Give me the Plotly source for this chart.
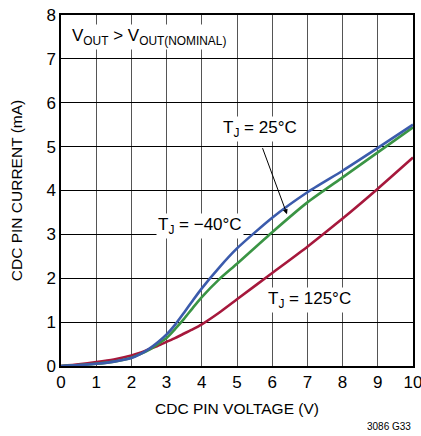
import plotly.graph_objects as go

# CDC pin voltage (V)
voltage = [0, 0.5, 1, 1.5, 2, 2.25, 2.5, 2.75, 3, 3.25, 3.5, 3.75, 4, 4.5, 5, 6, 7, 8, 9, 10]
# CDC pin current (mA) per junction temperature
i_25 = [0, 0.02, 0.05, 0.1, 0.18, 0.27, 0.39, 0.54, 0.72, 0.95, 1.22, 1.5, 1.77, 2.25, 2.68, 3.38, 3.96, 4.45, 4.97, 5.5]
i_m40 = [0, 0.02, 0.05, 0.1, 0.19, 0.27, 0.37, 0.5, 0.64, 0.85, 1.08, 1.33, 1.57, 1.98, 2.33, 3.05, 3.73, 4.3, 4.87, 5.44]
i_125 = [0, 0.04, 0.09, 0.15, 0.24, 0.3, 0.38, 0.46, 0.55, 0.64, 0.74, 0.84, 0.95, 1.22, 1.52, 2.12, 2.72, 3.36, 4.04, 4.75]

FONT = "Liberation Sans Narrow, Arial Narrow, Liberation Sans, sans-serif"

fig = go.Figure()
fig.add_trace(go.Scatter(x=voltage, y=i_125, mode='lines', line=dict(color='#a6183c', width=2.6, shape='spline', smoothing=0.6)))
fig.add_trace(go.Scatter(x=voltage, y=i_m40, mode='lines', line=dict(color='#3a9444', width=2.6, shape='spline', smoothing=0.6)))
fig.add_trace(go.Scatter(x=voltage, y=i_25, mode='lines', line=dict(color='#3b5bac', width=2.6, shape='spline', smoothing=0.6)))

lbl = dict(showarrow=False, bgcolor='white', font=dict(family=FONT, size=17, color='black'))
fig.add_annotation(x=0.25, y=7.5, xanchor='left', text='V<sub>OUT</sub> > V<sub>OUT(NOMINAL)</sub>', **lbl)
fig.add_annotation(x=5.65, y=5.4, text='T<sub>J</sub> = 25°C', **lbl)
fig.add_annotation(x=3.95, y=3.2, text='T<sub>J</sub> = −40°C', **lbl)
fig.add_annotation(x=7.07, y=1.5, text='T<sub>J</sub> = 125°C', **lbl)
# arrow from 25°C label to its curve
fig.add_annotation(x=6.42, y=3.46, ax=5.71, ay=5.0, axref='x', ayref='y', text='',
                   showarrow=True, arrowhead=2, arrowsize=1, arrowwidth=1, arrowcolor='black')

fig.add_annotation(x=1, y=-0.15, xref='paper', yref='paper', xanchor='right', yanchor='top',
                   text='3086 G33', showarrow=False, font=dict(family=FONT, size=10, color='black'))

fig.update_layout(
    width=421, height=436,
    margin=dict(l=61, r=8, t=15, b=70),
    showlegend=False,
    plot_bgcolor='white', paper_bgcolor='white',
    font=dict(family=FONT, size=15.5, color='black'),
    xaxis=dict(range=[0, 10], dtick=1, showgrid=True, gridcolor='#555', gridwidth=1.2,
               showline=True, linecolor='black', linewidth=1.5, mirror=True, zeroline=False,
               ticks='', fixedrange=True, automargin=False, tickfont=dict(size=17),
               ticklabeloverflow='allow',
               title=dict(text='CDC PIN VOLTAGE (V)', font=dict(size=15.5), standoff=12)),
    yaxis=dict(range=[0, 8], dtick=1, showgrid=True, gridcolor='black', gridwidth=1.2,
               showline=True, linecolor='black', linewidth=1.5, mirror=True, zeroline=False,
               ticks='', fixedrange=True, automargin=False, tickfont=dict(size=17),
               title=dict(text='CDC PIN CURRENT (mA)', font=dict(size=15.5), standoff=20)),
)

# drop the page's default body margin so the chart sits at the window's corner
fig.write_html("out.html", config={'displayModeBar': False},
               post_script="document.body.style.margin='0';")
